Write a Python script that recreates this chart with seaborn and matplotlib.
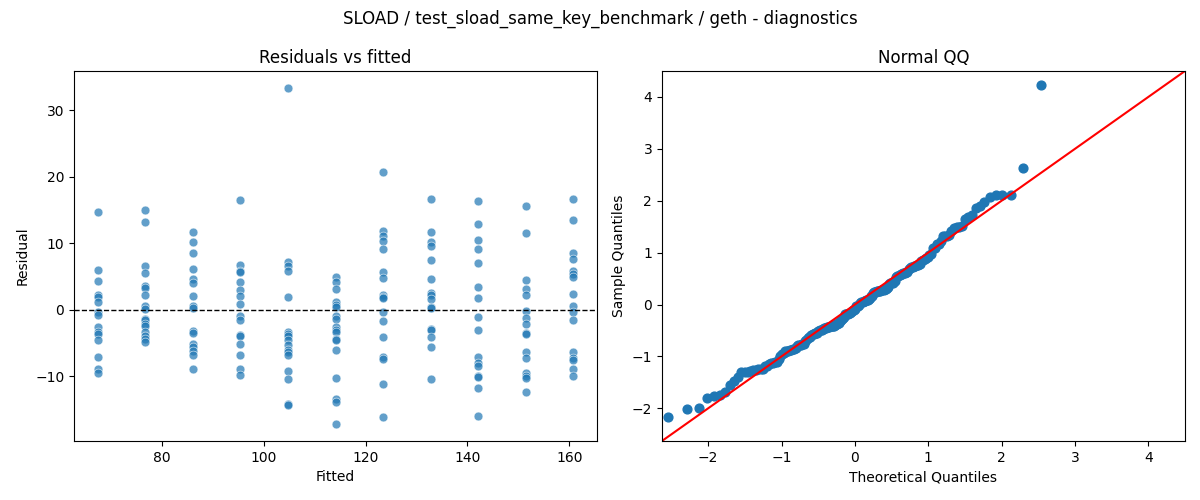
import statistics
import numpy as np
import pandas as pd
import matplotlib
matplotlib.use("Agg")
import matplotlib.pyplot as plt
import seaborn as sns

# fitted value of each group (x positions in the residual plot)
fitted_levels = [67.4, 76.7, 86.1, 95.4, 104.8, 114.1, 123.4, 132.8, 142.1, 151.5, 160.8]

# residuals per fitted group
resid_g1 = [14.65, 5.95, 4.3, 2.25, 1.85, 1.15, -0.35, -0.85, -2.55, -3.4, -3.6, -4.5, -7.1, -9.0, -9.5]
resid_g2 = [14.95, 13.15, 6.6, 5.5, 3.5, 3.2, 2.15, 0.6, 0.1, -1.4, -1.6, -2.1, -2.4, -3.35, -4.0, -4.4, -4.85]
resid_g3 = [11.65, 10.25, 8.5, 6.1, 4.65, 4.0, 2.0, 0.5, 0.2, -3.25, -3.5, -5.15, -5.65, -6.25, -6.8, -8.9]
resid_g4 = [16.5, 6.75, 5.8, 5.65, 4.15, 3.0, 2.0, 0.85, -1.0, -1.6, -3.75, -3.9, -5.15, -6.9, -9.0, -9.9]
resid_g5 = [33.4, 7.15, 6.5, 5.85, 1.9, -3.35, -3.65, -4.0, -4.6, -5.3, -6.15, -6.4, -6.9, -9.2, -10.4, -14.15, -14.35]
resid_g6 = [4.85, 4.15, 3.1, 1.15, 0.75, 0.4, -0.9, -1.4, -2.6, -3.0, -3.35, -4.4, -4.6, -6.15, -10.25, -13.5, -13.9, -17.25]
resid_g7 = [20.65, 11.85, 11.15, 10.35, 9.1, 5.6, 4.75, 2.15, 1.9, 1.75, -0.35, -1.65, -4.05, -7.1, -7.5, -11.15, -16.1]
resid_g8 = [16.6, 11.65, 10.25, 9.6, 7.45, 4.6, 2.5, 2.25, 1.6, 0.4, 0.25, -2.9, -3.1, -4.1, -5.6, -10.4]
resid_g9 = [16.3, 12.85, 10.45, 9.1, 7.0, 3.4, 1.75, -1.1, -3.05, -7.2, -8.0, -8.5, -10.0, -10.1, -11.75, -15.95]
resid_g10 = [15.55, 11.5, 4.45, 3.1, 2.15, -0.25, -1.25, -2.15, -3.5, -3.7, -6.35, -7.25, -9.5, -10.0, -10.35, -12.45]
resid_g11 = [16.6, 13.45, 8.5, 7.55, 5.8, 5.3, 4.9, 2.35, 0.6, -0.35, -1.55, -6.35, -7.25, -7.65, -8.9, -10.05]

groups = [resid_g1, resid_g2, resid_g3, resid_g4, resid_g5, resid_g6,
          resid_g7, resid_g8, resid_g9, resid_g10, resid_g11]

rows = []
for fv, g in zip(fitted_levels, groups):
    for r in g:
        rows.append({"Fitted": fv, "Residual": r})
df = pd.DataFrame(rows)

# Normal QQ: standardized residuals vs normal plotting positions i/(n+1)
res = df["Residual"].to_numpy()
loc, scale = res.mean(), res.std()
sample_q = np.sort((res - loc) / scale)
n = len(sample_q)
nd = statistics.NormalDist()
theo_q = np.array([nd.inv_cdf(i / (n + 1)) for i in range(1, n + 1)])
qq = pd.DataFrame({"Theoretical Quantiles": theo_q, "Sample Quantiles": sample_q})

fig, axes = plt.subplots(1, 2, figsize=(12, 5), dpi=100)
fig.subplots_adjust(left=0.0617, right=0.9875, top=0.858, bottom=0.118, wspace=0.124)

ax = axes[0]
sns.scatterplot(data=df, x="Fitted", y="Residual", ax=ax, color="C0", alpha=0.7, s=40)
ax.axhline(0, color="black", linestyle="--", linewidth=1)
ax.set_title("Residuals vs fitted")

ax = axes[1]
sns.scatterplot(data=qq, x="Theoretical Quantiles", y="Sample Quantiles", ax=ax,
                color="C0", edgecolor="C0", linewidth=1, s=40)
lims = [-2.63, 4.5]
ax.plot(lims, lims, color="red", linewidth=1.5)
ax.set_xlim(lims)
ax.set_ylim(lims)
ax.set_title("Normal QQ")

fig.suptitle("SLOAD / test_sload_same_key_benchmark / geth - diagnostics")
fig.savefig("out.png", dpi=100)
